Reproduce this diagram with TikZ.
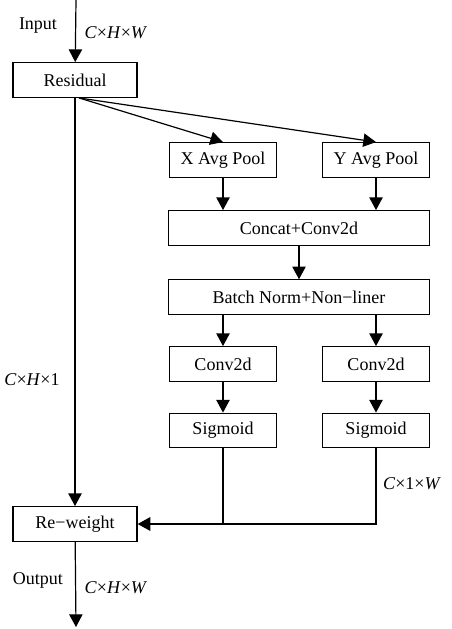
\documentclass[tikz,border=0pt]{standalone}
\usepackage{fontspec}
\setmainfont{Liberation Serif}
\usetikzlibrary{arrows.meta,positioning}
\newcommand{\dimCHW}{\textit{C}×\textit{H}×\textit{W}}
\newcommand{\dimCHone}{\textit{C}×\textit{H}×1}
\newcommand{\dimConeW}{\textit{C}×1×\textit{W}}
\tikzset{
  box/.style={draw, line width=0.9pt, minimum width=93pt, minimum height=26pt, inner sep=0pt},
  smallbox/.style={box, minimum width=80pt},
  widebox/.style={box, minimum width=196pt},
  flow/.style={line width=0.9pt, -{Triangle[width=10pt,length=9.5pt]}},
  merge/.style={line width=1.6pt}
}

\begin{document}
\begin{tikzpicture}[x=0.75pt, y=-0.75pt, font=\fontsize{13.5}{16}\selectfont]
  \useasboundingbox (0,0) rectangle (451,629);

  \node[box] (res) at (75,80) {Residual};
  \node[smallbox] (xpool) at (223,160) {X Avg Pool};
  \node[smallbox] (ypool) at (376,160) {Y Avg Pool};
  \node[widebox] (cat) at (299,228) {Concat+Conv2d};
  \node[widebox, below=25pt of cat] (bn) {Batch Norm+Non−liner};
  \node[smallbox] (convx) at (223,364) {Conv2d};
  \node[smallbox] (convy) at (376,364) {Conv2d};
  \node[smallbox, below=23pt of convx] (sigx) {Sigmoid};
  \node[smallbox, below=23pt of convy] (sigy) {Sigmoid};
  \node[box] (rew) at (75,524) {Re−weight};

  \coordinate (in) at (76,0);
  \coordinate (out) at (76,627);

  % input / output
  \draw[flow] (in) -- (res);
  \draw[flow] (rew) -- (out);
  \node (inlbl) at (38,26) {Input};
  \node (inshape) at (116,33) {\dimCHW};
  \node (outlbl) at (38,580) {Output};
  \node (outshape) at (116,588) {\dimCHW};

  % residual branch
  \draw[flow] (res) -- (rew);
  \node (skipshape) at (32,380) {\dimCHone};

  % pooling branches
  \draw[flow] ([xshift=3pt]res.south) -- (xpool.north);
  \draw[flow] ([xshift=3pt]res.south) -- (ypool.north);
  \draw[flow] (xpool.south) -- (xpool.south |- cat.north);
  \draw[flow] (ypool.south) -- (ypool.south |- cat.north);
  \draw[flow] (cat) -- (bn);
  \draw[flow] (bn.south -| convx) -- (convx);
  \draw[flow] (bn.south -| convy) -- (convy);
  \draw[flow] (convx) -- (sigx);
  \draw[flow] (convy) -- (sigy);

  % attention weights back to re-weight
  \draw[merge] (sigx.south) -- (sigx.south |- rew.east);
  \draw[merge, -{Triangle[width=10pt,length=9.5pt]}] (sigy.south) |- (rew.east);
  \node (attshape) at (412,484) {\dimConeW};
\end{tikzpicture}
\end{document}
